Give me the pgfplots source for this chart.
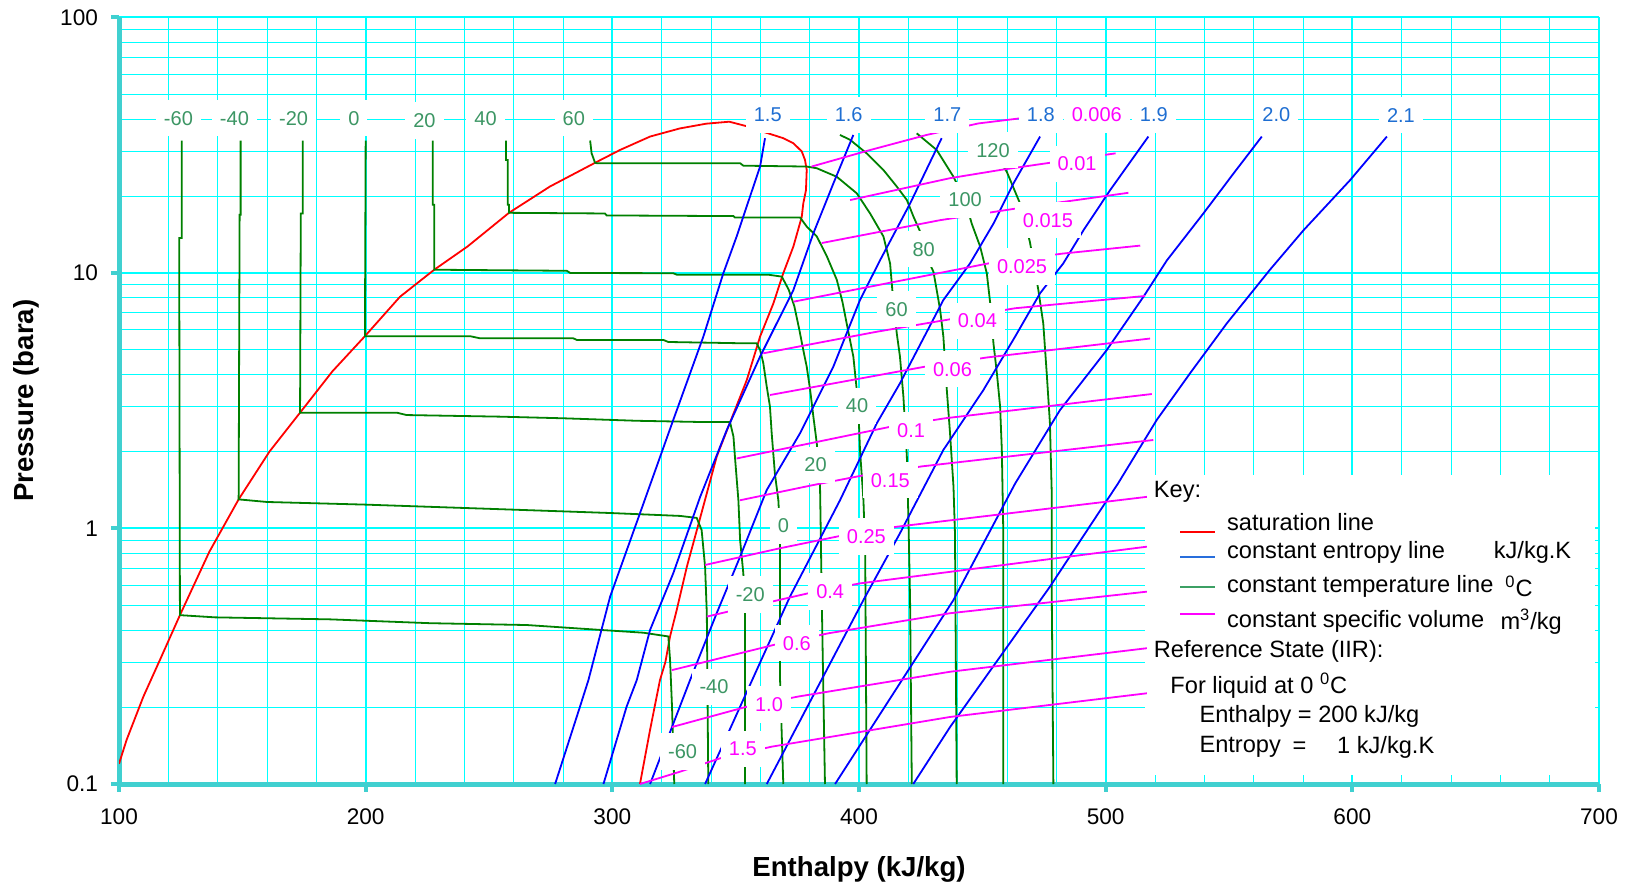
\documentclass[border=0pt]{standalone}
\usepackage{fontspec}
\setmainfont{Liberation Sans}
\usepackage{pgfplots}
\pgfplotsset{compat=1.18}
\definecolor{gridc}{RGB}{0,255,255}
\definecolor{axc}{RGB}{64,208,208}
\definecolor{satc}{RGB}{255,0,0}
\definecolor{isen}{RGB}{0,0,255}
\definecolor{isot}{RGB}{0,128,0}
\definecolor{isoc}{RGB}{255,0,255}
\definecolor{tlab}{RGB}{60,150,100}
\definecolor{slab}{RGB}{30,110,210}
\definecolor{keyblue}{RGB}{40,110,220}
\definecolor{keygreen}{RGB}{60,160,100}
\tikzset{
 lab/.style={fill=white, inner xsep=4pt, inner ysep=5.5pt, font=\fontsize{10}{12}\selectfont},
 keyt/.style={anchor=west, inner sep=0pt, font=\fontsize{11.8}{14}\selectfont},
}
\begin{document}
\begin{tikzpicture}
\begin{axis}[
 scale only axis, width=740pt, height=383.25pt,
 xmin=100, xmax=700, ymin=0.1, ymax=100, ymode=log,
 axis x line*=bottom, axis y line*=left,
 axis line style={axc, line width=2.5pt},
 xtick={100,200,300,400,500,600,700},
 xticklabels={100,200,300,400,500,600,700},
 minor xtick={120,140,160,180,220,240,260,280,320,340,360,380,420,440,460,480,520,540,560,580,620,640,660,680},
 ytick={0.1,1,10,100}, yticklabels={0.1,1,10,100},
 minor ytick={0.2,0.3,0.4,0.5,0.6,0.7,0.8,0.9,2,3,4,5,6,7,8,9,20,30,40,50,60,70,80,90},
 grid=both,
 major grid style={gridc, line width=1pt},
 minor grid style={gridc, line width=0.5pt},
 tick align=outside, major tick length=4pt, minor tick length=0pt,
 tick style={axc, line width=2pt},
 /pgf/number format/assume math mode=true,
 xticklabel style={font=\fontsize{11.3}{13}\selectfont, yshift=-5pt},
 yticklabel style={font=\fontsize{11.3}{13}\selectfont, xshift=-3pt},
 xlabel={Enthalpy (kJ/kg)}, ylabel={Pressure (bara)},
 xlabel style={font=\fontsize{13.8}{16}\selectfont\bfseries, at={(axis description cs:0.5,-0.1109)}, anchor=center},
 ylabel style={font=\fontsize{13.8}{16}\selectfont\bfseries, at={(axis description cs:-0.06284,0.5)}, anchor=center},
 every axis plot/.append style={line width=0.9pt},
]
% key background
\addplot[draw=none, fill=white, forget plot] coordinates {(516,0.1084) (698.4,0.1084) (698.4,1.62) (516,1.62)} -- cycle;

% saturation line
\addplot[satc] coordinates {(100,0.120) (103.1,0.149) (109.9,0.220) (116.6,0.306) (124.7,0.458) (136.6,0.81) (148.5,1.30) (161,2.0) (173.4,2.84) (186.5,4.12) (199.7,5.66) (213.9,8.07) (227.8,10.3) (241.3,12.7) (258.1,17.2) (274.7,21.8) (293,27.0) (303.1,30.3) (315.3,34.2) (327.4,36.8) (338,38.4) (347.4,39.1) (355.1,37.4) (362,35.5) (369.3,33.7) (373.4,32.2) (376.8,29.9) (378.1,27.7) (378.8,25.3) (378.5,21.1) (377.4,18.7) (376.8,16.6) (373.4,12.7) (369.3,9.98) (365.3,7.61) (359.9,5.64) (354.5,3.81) (347.7,2.60) (342.3,1.91) (335.6,1.10) (330.2,0.708) (326.1,0.48) (323.4,0.378) (321.5,0.30) (319.3,0.255) (315.3,0.163) (311.2,0.1)};

% isotherms
\addplot[isot] coordinates {(125.4,33) (125.4,13.7) (124.4,13.7) (124.7,0.458) (138.9,0.449) (185.5,0.441) (226.1,0.426) (265.3,0.419) (295,0.401) (312.6,0.391) (322.7,0.378) (323.4,0.306) (324.2,0.2) (325.1,0.1)};
\addplot[isot] coordinates {(149.3,33) (149.3,16.9) (148.9,16.9) (148.5,1.30) (160,1.27) (200,1.24) (254.5,1.19) (299,1.15) (327.5,1.12) (334.2,1.10) (336.2,0.986) (337.6,0.708) (338.3,0.466) (338.9,0.1)};
\addplot[isot] coordinates {(174.5,33) (174.5,17.1) (173.7,17.1) (173.4,2.84) (212.6,2.84) (216.6,2.78) (254.5,2.74) (280.1,2.70) (309.9,2.64) (336.9,2.61) (347.7,2.61) (349.1,2.29) (349.7,1.91) (351.1,1.29) (351.8,0.90) (353.1,0.668) (353.8,0.466) (353.8,0.1)};
\addplot[isot] coordinates {(200.0,33) (199.7,5.66) (242.3,5.66) (246.4,5.55) (284.2,5.55) (285.6,5.47) (320.7,5.47) (322.7,5.37) (351.8,5.31) (358.5,5.31) (359.9,5.00) (361.2,4.44) (362.6,3.59) (363.9,3.0) (364.6,2.36) (365.9,1.64) (367.3,1.29) (368.0,0.957) (368.0,0.255) (369.3,0.1)};
\addplot[isot] coordinates {(227.2,33) (227.2,18.5) (227.8,18.5) (227.8,10.3) (281.5,10.2) (283,10.0) (324.7,9.98) (326.1,9.85) (363.2,9.85) (368.7,9.68) (371.5,8.6) (373.8,7.4) (375.8,6.0) (377.4,5.0) (378.8,4.30) (380.2,3.48) (381.5,2.74) (382.9,2.15) (384.2,1.46) (384.5,0.957) (384.9,0.525) (386.2,0.1)};
\addplot[isot] coordinates {(256.9,33) (256.9,27.7) (257.6,27.7) (257.6,18.5) (258.1,18.5) (258.1,17.2) (297,17.1) (297.7,16.8) (349.1,16.7) (349.7,16.5) (376.1,16.5) (378.8,15.2) (382.9,13.9) (387,11.6) (391,9.4) (393.3,7.7) (395.0,6.35) (397.7,4.71) (399.1,3.48) (399.7,3.0) (400.4,2.03) (401.8,1.29) (402.5,0.824) (403.1,0.1)};
\addplot[isot] coordinates {(291,33) (291.6,29.4) (293,27.0) (293.7,26.9) (351.8,26.9) (353.1,26.3) (378.8,26.1) (382.9,25.7) (391,23.8) (399.1,20.5) (404.5,17.1) (409.9,13.9) (412.6,10.9) (413.5,8.6) (415.3,5.81) (416.6,4.71) (418,3.28) (419.4,1.91) (420.1,1.02) (420.7,0.525) (421.4,0.1)};
\addplot[isot] coordinates {(392.3,34.7) (396.4,33.2) (403.1,29.4) (409.9,25.3) (415.3,21.8) (419.4,19.3) (422.1,16.6) (424.8,14.5) (426.1,12.3) (430.2,10.1) (431.5,8.57) (432.9,7.16) (434.2,5.64) (435.6,3.48) (436.9,2.36) (438.3,1.46) (438.9,0.96) (439.6,0.1)};
\addplot[isot] coordinates {(423.4,35.2) (431.5,30.3) (438.3,23.8) (443,19.3) (445.7,15.6) (449.1,12.7) (451.8,9.98) (453.2,7.6) (454.5,5.31) (455.9,4.05) (457.2,3.0) (457.9,2.03) (458.5,0.96) (458.5,0.1)};
\addplot[isot] coordinates {(450.4,34.7) (459.9,24.9) (465.3,18.7) (469.3,13.2) (472.7,8.58) (474.7,6.35) (476.1,4.05) (477.4,2.58) (478.1,1.42) (478.1,0.61) (478.8,0.1)};

% isentropes
\addplot[isen] coordinates {(276.8,0.1) (286.9,0.201) (290.3,0.255) (299.1,0.541) (311.2,1.147) (324.7,2.66) (336.9,5.64) (345.0,9.98) (350.4,13.9) (355.8,19.9) (359.9,26.1) (361.9,33.7)};
\addplot[isen] coordinates {(296.4,0.1) (305.8,0.201) (309.9,0.255) (315.3,0.401) (324.7,0.668) (335.6,1.33) (346.4,2.43) (359.9,4.71) (373.4,8.58) (381.5,14.3) (389.6,22.4) (397.7,34.7)};
\addplot[isen] coordinates {(315.3,0.1) (331.5,0.255) (342.3,0.466) (351.8,0.776) (362.6,1.415) (376.1,2.36) (389.6,4.30) (400.4,7.84) (408.5,11.2) (420.7,18.7) (433.5,33.7)};
\addplot[isen] coordinates {(337.6,0.1) (372.0,0.541) (392.3,1.29) (407.2,2.58) (416.6,3.70) (434.2,7.84) (445.0,10.9) (454.5,15.6) (462.6,22.4) (473.4,34.2)};
\addplot[isen] coordinates {(362.6,0.1) (401.8,0.525) (416.6,0.958) (434.2,2.03) (450.4,3.48) (463.3,5.64) (473.4,8.33) (482.8,10.9) (491.0,14.7) (501.8,21.1) (517.3,34.2)};
\addplot[isen] coordinates {(390.3,0.1) (438.3,0.525) (463.3,1.50) (481.5,2.91) (500.4,4.99) (515.3,8.07) (524.8,11.2) (539.6,17.1) (551.8,24.5) (563.3,34.2)};
\addplot[isen] coordinates {(422.0,0.1) (436.9,0.167) (477.4,0.592) (505,1.50) (520.7,2.66) (534.2,4.05) (549.1,6.35) (566.6,10.3) (580.2,14.7) (599.1,23.1) (614.0,34.2)};

% isochores
\addplot[isoc] coordinates {(380.8,26.1) (404,30.2) (427.4,34.7) (448.4,38.5) (465.3,40.3)};
\addplot[isoc] coordinates {(396.4,19.3) (436.9,23.5) (457.2,25.3) (477.4,27.0) (504,29.4)};
\addplot[isoc] coordinates {(384.9,13.1) (432.9,16.1) (464,17.9) (509.2,20.6)};
\addplot[isoc] coordinates {(373.4,7.72) (452.4,10.9) (482.2,11.9) (514,12.8)};
\addplot[isoc] coordinates {(361.2,4.85) (407.2,5.89) (436.9,6.59) (463.3,7.28) (516,8.13)};
\addplot[isoc] coordinates {(363.9,3.33) (426.8,4.30) (451.8,4.67) (518,5.54)};
\addplot[isoc] coordinates {(350.4,1.88) (412.6,2.50) (434.9,2.70) (518.7,3.36)};
\addplot[isoc] coordinates {(351.8,1.29) (381.5,1.48) (402.5,1.62) (425.4,1.75) (519.3,2.22)};
\addplot[isoc] coordinates {(337.6,0.720) (368.0,0.837) (392.3,0.935) (415.3,1.016) (516.7,1.33)};
\addplot[isoc] coordinates {(338.3,0.452) (347.0,0.473) (379.5,0.558) (400.4,0.610) (516.7,0.849)};
\addplot[isoc] coordinates {(324.1,0.279) (365.3,0.350) (387.6,0.389) (436.9,0.466) (516.7,0.566)};
\addplot[isoc] coordinates {(324.1,0.167) (354.5,0.2007) (375.4,0.220) (436.9,0.275) (516.7,0.340)};
\addplot[isoc] coordinates {(311.2,0.1) (327.4,0.1117) (343.6,0.126) (364.6,0.140) (436.9,0.183) (516.7,0.2265)};

% top row labels: temperatures
\node[lab, text=tlab] at (axis cs:124.1,40.3) {-60};
\node[lab, text=tlab] at (axis cs:146.8,40.3) {-40};
\node[lab, text=tlab] at (axis cs:170.8,40.3) {-20};
\node[lab, text=tlab] at (axis cs:195.2,40.3) {0};
\node[lab, text=tlab] at (axis cs:223.8,39.5) {20};
\node[lab, text=tlab] at (axis cs:248.6,40.3) {40};
\node[lab, text=tlab] at (axis cs:284.4,40.3) {60};
% top row labels: entropy
\node[lab, text=slab] at (axis cs:363.0,41.5) {1.5};
\node[lab, text=slab] at (axis cs:395.8,41.5) {1.6};
\node[lab, text=slab] at (axis cs:435.8,41.5) {1.7};
\node[lab, text=slab] at (axis cs:473.7,41.5) {1.8};
\node[lab, text=isoc] at (axis cs:496.4,41.5) {0.006};
\node[lab, text=slab] at (axis cs:519.5,41.5) {1.9};
\node[lab, text=slab] at (axis cs:569.2,41.5) {2.0};
\node[lab, text=slab] at (axis cs:619.7,41.5) {2.1};
% vapour isotherm labels
\node[lab, text=tlab] at (axis cs:328.5,0.134) {-60};
\node[lab, text=tlab] at (axis cs:341.2,0.240) {-40};
\node[lab, text=tlab] at (axis cs:355.9,0.552) {-20};
\node[lab, text=tlab] at (axis cs:369.4,1.022) {0};
\node[lab, text=tlab] at (axis cs:382.4,1.775) {20};
\node[lab, text=tlab] at (axis cs:399.2,3.02) {40};
\node[lab, text=tlab] at (axis cs:415.2,7.22) {60};
\node[lab, text=tlab] at (axis cs:426.2,12.4) {80};
\node[lab, text=tlab] at (axis cs:443.0,19.3) {100};
\node[lab, text=tlab] at (axis cs:454.3,30.2) {120};
% isochore labels
\node[lab, text=isoc] at (axis cs:488.4,26.7) {0.01};
\node[lab, text=isoc] at (axis cs:476.6,16.1) {0.015};
\node[lab, text=isoc] at (axis cs:466.1,10.6) {0.025};
\node[lab, text=isoc] at (axis cs:448.0,6.51) {0.04};
\node[lab, text=isoc] at (axis cs:437.9,4.20) {0.06};
\node[lab, text=isoc] at (axis cs:421.1,2.42) {0.1};
\node[lab, text=isoc] at (axis cs:412.7,1.543) {0.15};
\node[lab, text=isoc] at (axis cs:403.0,0.931) {0.25};
\node[lab, text=isoc] at (axis cs:388.3,0.567) {0.4};
\node[lab, text=isoc] at (axis cs:374.8,0.3554) {0.6};
\node[lab, text=isoc] at (axis cs:363.5,0.2047) {1.0};
\node[lab, text=isoc] at (axis cs:352.9,0.137) {1.5};

% key
\node[keyt] at (axis cs:519.4,1.393) {Key:};
\draw[satc, line width=0.9pt] (axis cs:530.2,0.972) -- (axis cs:544.4,0.972);
\node[keyt] at (axis cs:549.1,1.063) {saturation line};
\draw[keyblue, line width=0.9pt] (axis cs:530.2,0.772) -- (axis cs:544.4,0.772);
\node[keyt] at (axis cs:549.1,0.804) {constant entropy line};
\node[keyt] at (axis cs:657.2,0.804) {kJ/kg.K};
\draw[keygreen, line width=0.9pt] (axis cs:530.2,0.589) -- (axis cs:544.4,0.589);
\node[keyt] at (axis cs:549.1,0.592) {constant temperature line};
\node[keyt] at (axis cs:661.9,0.592) {\textsuperscript{0}C};
\draw[isoc, line width=0.9pt] (axis cs:530.2,0.4615) -- (axis cs:544.4,0.4615);
\node[keyt] at (axis cs:549.1,0.4317) {constant specific volume};
\node[keyt] at (axis cs:659.9,0.4317) {m\textsuperscript{3}/kg};
\node[keyt] at (axis cs:519.4,0.3296) {Reference State (IIR):};
\node[keyt] at (axis cs:526.1,0.2418) {For liquid at 0 \textsuperscript{0}C};
\node[keyt] at (axis cs:537.9,0.1834) {Enthalpy = 200 kJ/kg};
\node[keyt] at (axis cs:537.9,0.1392) {Entropy};
\node[keyt] at (axis cs:575.6,0.1392) {=};
\node[keyt] at (axis cs:593.7,0.1392) {1 kJ/kg.K};
\end{axis}
\pgfresetboundingbox
\path[use as bounding box] ([xshift=-59.5pt,yshift=-51pt]current axis.south west) rectangle ([xshift=14pt,yshift=8.75pt]current axis.north east);
\end{tikzpicture}
\end{document}
